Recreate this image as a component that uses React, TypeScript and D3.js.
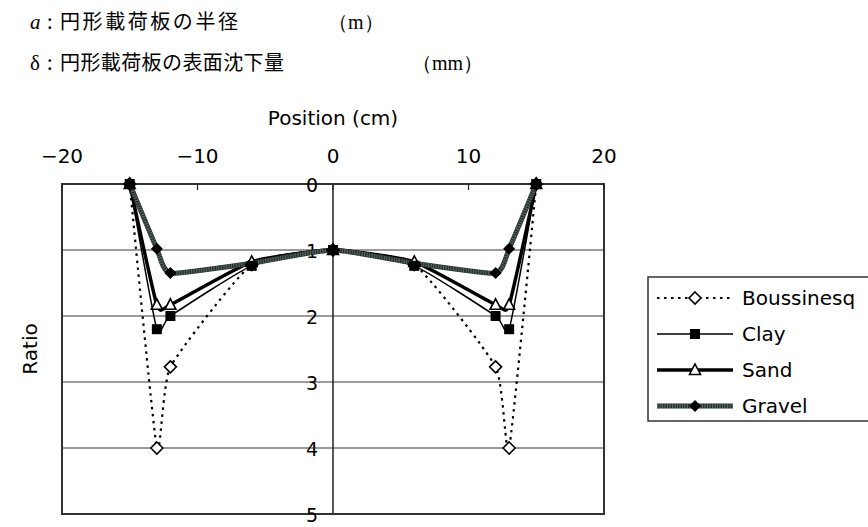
import React from "react";
import * as d3 from "d3";

// positions (cm) where the ratio was measured
const positions = [-15, -13, -12, -6, 0, 6, 12, 13, 15];

const boussinesq = [0, 4, 2.77, 1.22, 1, 1.22, 2.77, 4, 0];
const clay = [0, 2.2, 2.0, 1.24, 1, 1.24, 2.0, 2.2, 0];
const sand = [0, 1.83, 1.83, 1.18, 1, 1.18, 1.83, 1.83, 0];
const gravel = [0, 0.98, 1.35, 1.2, 1, 1.2, 1.35, 0.98, 0];

const xTicks = [-20, -10, 0, 10, 20];
const yTicks = [0, 1, 2, 3, 4, 5];
const seriesNames = ["Boussinesq", "Clay", "Sand", "Gravel"];

const sizes = { width: 868, height: 527 };
const plot = { left: 62, right: 604, top: 184, bottom: 514 };

const x = d3.scaleLinear().domain([-20, 20]).range([plot.left, plot.right]);
const y = d3.scaleLinear().domain([0, 5]).range([plot.top, plot.bottom]);

const line = d3
  .line<number>()
  .x((d, i) => x(positions[i]))
  .y((d) => y(d))
  .curve(d3.curveCardinal.tension(0.5));

const fmt = (v: number) => (v < 0 ? "\u2212" + Math.abs(v) : String(v));

const latin = "'DejaVu Sans', sans-serif";
const jp = "'Noto Sans CJK JP', sans-serif";
const serif = "'Liberation Serif', serif";

const diamond = "M0,-6L6,0L0,6L-6,0Z";
const triangle = "M0,-6L5.5,4.5L-5.5,4.5Z";
const square = "M-5,-5H5V5H-5Z";

function Marker({ kind, cx, cy }: { kind: string; cx: number; cy: number }) {
  const t = `translate(${cx},${cy})`;
  if (kind === "Boussinesq")
    return <path d={diamond} transform={t} fill="white" stroke="black" strokeWidth={1.6} />;
  if (kind === "Clay") return <path d={square} transform={t} fill="black" />;
  if (kind === "Sand")
    return <path d={triangle} transform={t} fill="white" stroke="black" strokeWidth={1.6} />;
  return <path d={diamond} transform={t} fill="black" />;
}

function SeriesLine({ kind, d }: { kind: string; d: string }) {
  if (kind === "Boussinesq")
    return <path d={d} fill="none" stroke="black" strokeWidth={2.2} strokeDasharray="2.5,4.5" />;
  if (kind === "Clay") return <path d={d} fill="none" stroke="black" strokeWidth={1.5} />;
  if (kind === "Sand") return <path d={d} fill="none" stroke="black" strokeWidth={3.5} />;
  return (
    <g>
      <path d={d} fill="none" stroke="#27332f" strokeWidth={5} />
      <path d={d} fill="none" stroke="#5c6a65" strokeWidth={4} strokeDasharray="1,1.5" />
    </g>
  );
}

export default function App() {
  const data: Record<string, number[]> = {
    Boussinesq: boussinesq,
    Clay: clay,
    Sand: sand,
    Gravel: gravel,
  };
  const markerOrder = ["Boussinesq", "Gravel", "Sand", "Clay"];
  const legendY = [298, 334, 370, 406];

  return (
    <svg
      width={sizes.width}
      height={sizes.height}
      style={{ position: "fixed", left: 0, top: 0, background: "white" }}
    >
      {/* header text */}
      <text x={30} y={29} fontFamily={serif} fontStyle="italic" fontSize={21}>a</text>
      <text x={47} y={29} fontFamily={jp} fontSize={20}>:</text>
      <text x={60} y={29} fontFamily={jp} fontSize={20} textLength={178} lengthAdjust="spacing">
        円形載荷板の半径
      </text>
      <text x={328} y={29} fontFamily={serif} fontSize={20}>（m）</text>
      <text x={30} y={70} fontFamily={serif} fontSize={21}>δ</text>
      <text x={47} y={70} fontFamily={jp} fontSize={20}>:</text>
      <text x={60} y={70} fontFamily={jp} fontSize={20} textLength={224} lengthAdjust="spacing">
        円形載荷板の表面沈下量
      </text>
      <text x={412} y={70} fontFamily={serif} fontSize={20}>（mm）</text>

      {/* grid */}
      {yTicks.slice(1, -1).map((t) => (
        <line key={t} x1={plot.left} x2={plot.right} y1={y(t)} y2={y(t)} stroke="#7a7a7a" strokeWidth={1.5} />
      ))}
      <line x1={x(0)} x2={x(0)} y1={plot.top} y2={plot.bottom} stroke="#222" strokeWidth={1.5} />
      <rect
        x={plot.left}
        y={plot.top}
        width={plot.right - plot.left}
        height={plot.bottom - plot.top}
        fill="none"
        stroke="#333"
        strokeWidth={2}
      />
      {xTicks.map((t) => (
        <line key={t} x1={x(t)} x2={x(t)} y1={plot.top} y2={plot.top + 6} stroke="#222" strokeWidth={1.2} />
      ))}

      {/* axes text */}
      <text x={x(0)} y={118} textAnchor="middle" dominantBaseline="central" fontFamily={latin} fontSize={20}>
        Position (cm)
      </text>
      {xTicks.map((t) => (
        <text key={t} x={x(t)} y={156} textAnchor="middle" dominantBaseline="central" fontFamily={latin} fontSize={20}>
          {fmt(t)}
        </text>
      ))}
      {yTicks.map((t) => (
        <text key={t} x={x(0) - 15} y={y(t) + 1} textAnchor="end" dominantBaseline="central" fontFamily={latin} fontSize={19}>
          {t}
        </text>
      ))}
      <text
        transform={`translate(30,${y(2.5)}) rotate(-90)`}
        textAnchor="middle"
        dominantBaseline="central"
        fontFamily={latin}
        fontSize={20}
      >
        Ratio
      </text>

      {/* series */}
      {seriesNames.map((s) => (
        <SeriesLine key={s} kind={s} d={line(data[s]) || ""} />
      ))}
      {markerOrder.map((s) =>
        data[s].map((v, i) => <Marker key={s + i} kind={s} cx={x(positions[i])} cy={y(v)} />)
      )}

      {/* legend */}
      <rect x={648} y={277} width={240} height={144} fill="white" stroke="#333" strokeWidth={1.5} />
      {seriesNames.map((s, i) => (
        <g key={s}>
          <SeriesLine kind={s} d={`M657,${legendY[i]}H733`} />
          <Marker kind={s} cx={695} cy={legendY[i]} />
          <text x={742} y={legendY[i]} dominantBaseline="central" fontFamily={latin} fontSize={20}>
            {s}
          </text>
        </g>
      ))}
    </svg>
  );
}
